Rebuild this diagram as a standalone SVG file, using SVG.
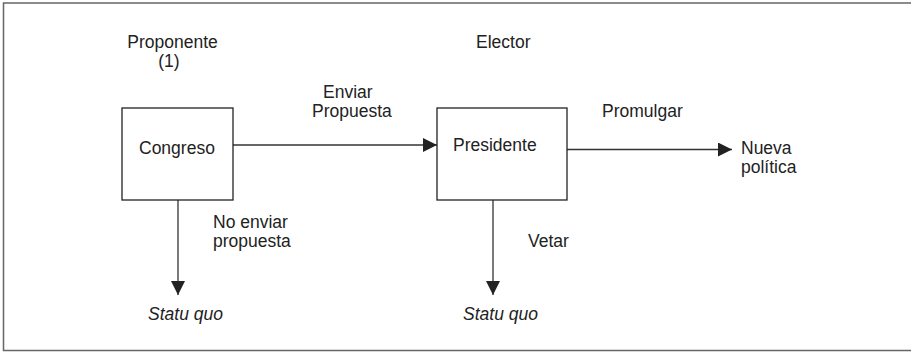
<svg xmlns="http://www.w3.org/2000/svg" width="911" height="352" viewBox="0 0 911 352">
<style>
text{font-family:"Liberation Sans",Arial,sans-serif;font-size:17.5px;fill:#222}
.it{font-style:italic}
.box{fill:#fff;stroke:#222;stroke-width:1.3}
.edge{stroke:#333;stroke-width:1.3;fill:none}
</style>
<defs>
<marker id="ah" viewBox="0 0 14 14" refX="14" refY="7" markerWidth="14" markerHeight="14" markerUnits="userSpaceOnUse" orient="auto">
<path d="M0,0 L14,7 L0,14 Z" fill="#222"/>
</marker>
</defs>
<rect x="3.5" y="3" width="930" height="347.5" fill="#fff" stroke="#666" stroke-width="1.5"/>
<g id="labels">
<text x="172.5" y="48" text-anchor="middle">Proponente</text>
<text x="169" y="67" text-anchor="middle">(1)</text>
<text x="476" y="48">Elector</text>
</g>
<g id="connectors">
<path class="edge" d="M233,145 H437" marker-end="url(#ah)"/>
<path class="edge" d="M567,149.5 H732" marker-end="url(#ah)"/>
<path class="edge" d="M178,200 V295" marker-end="url(#ah)"/>
<path class="edge" d="M493,200 V295" marker-end="url(#ah)"/>
<text x="323" y="98">Enviar</text>
<text x="312" y="117">Propuesta</text>
<text x="602" y="117">Promulgar</text>
<text x="213" y="228">No enviar</text>
<text x="213" y="247">propuesta</text>
<text x="528" y="247">Vetar</text>
</g>
<g id="congreso">
<rect class="box" x="122" y="108" width="111" height="92"/>
<text x="139" y="154">Congreso</text>
</g>
<g id="presidente">
<rect class="box" x="437" y="108" width="130" height="92"/>
<text x="453" y="151">Presidente</text>
</g>
<g id="nueva-politica">
<text x="741" y="154">Nueva</text>
<text x="741" y="173">política</text>
</g>
<g id="statu-quo-1">
<text class="it" x="148" y="319.5">Statu quo</text>
</g>
<g id="statu-quo-2">
<text class="it" x="463" y="320">Statu quo</text>
</g>
</svg>
